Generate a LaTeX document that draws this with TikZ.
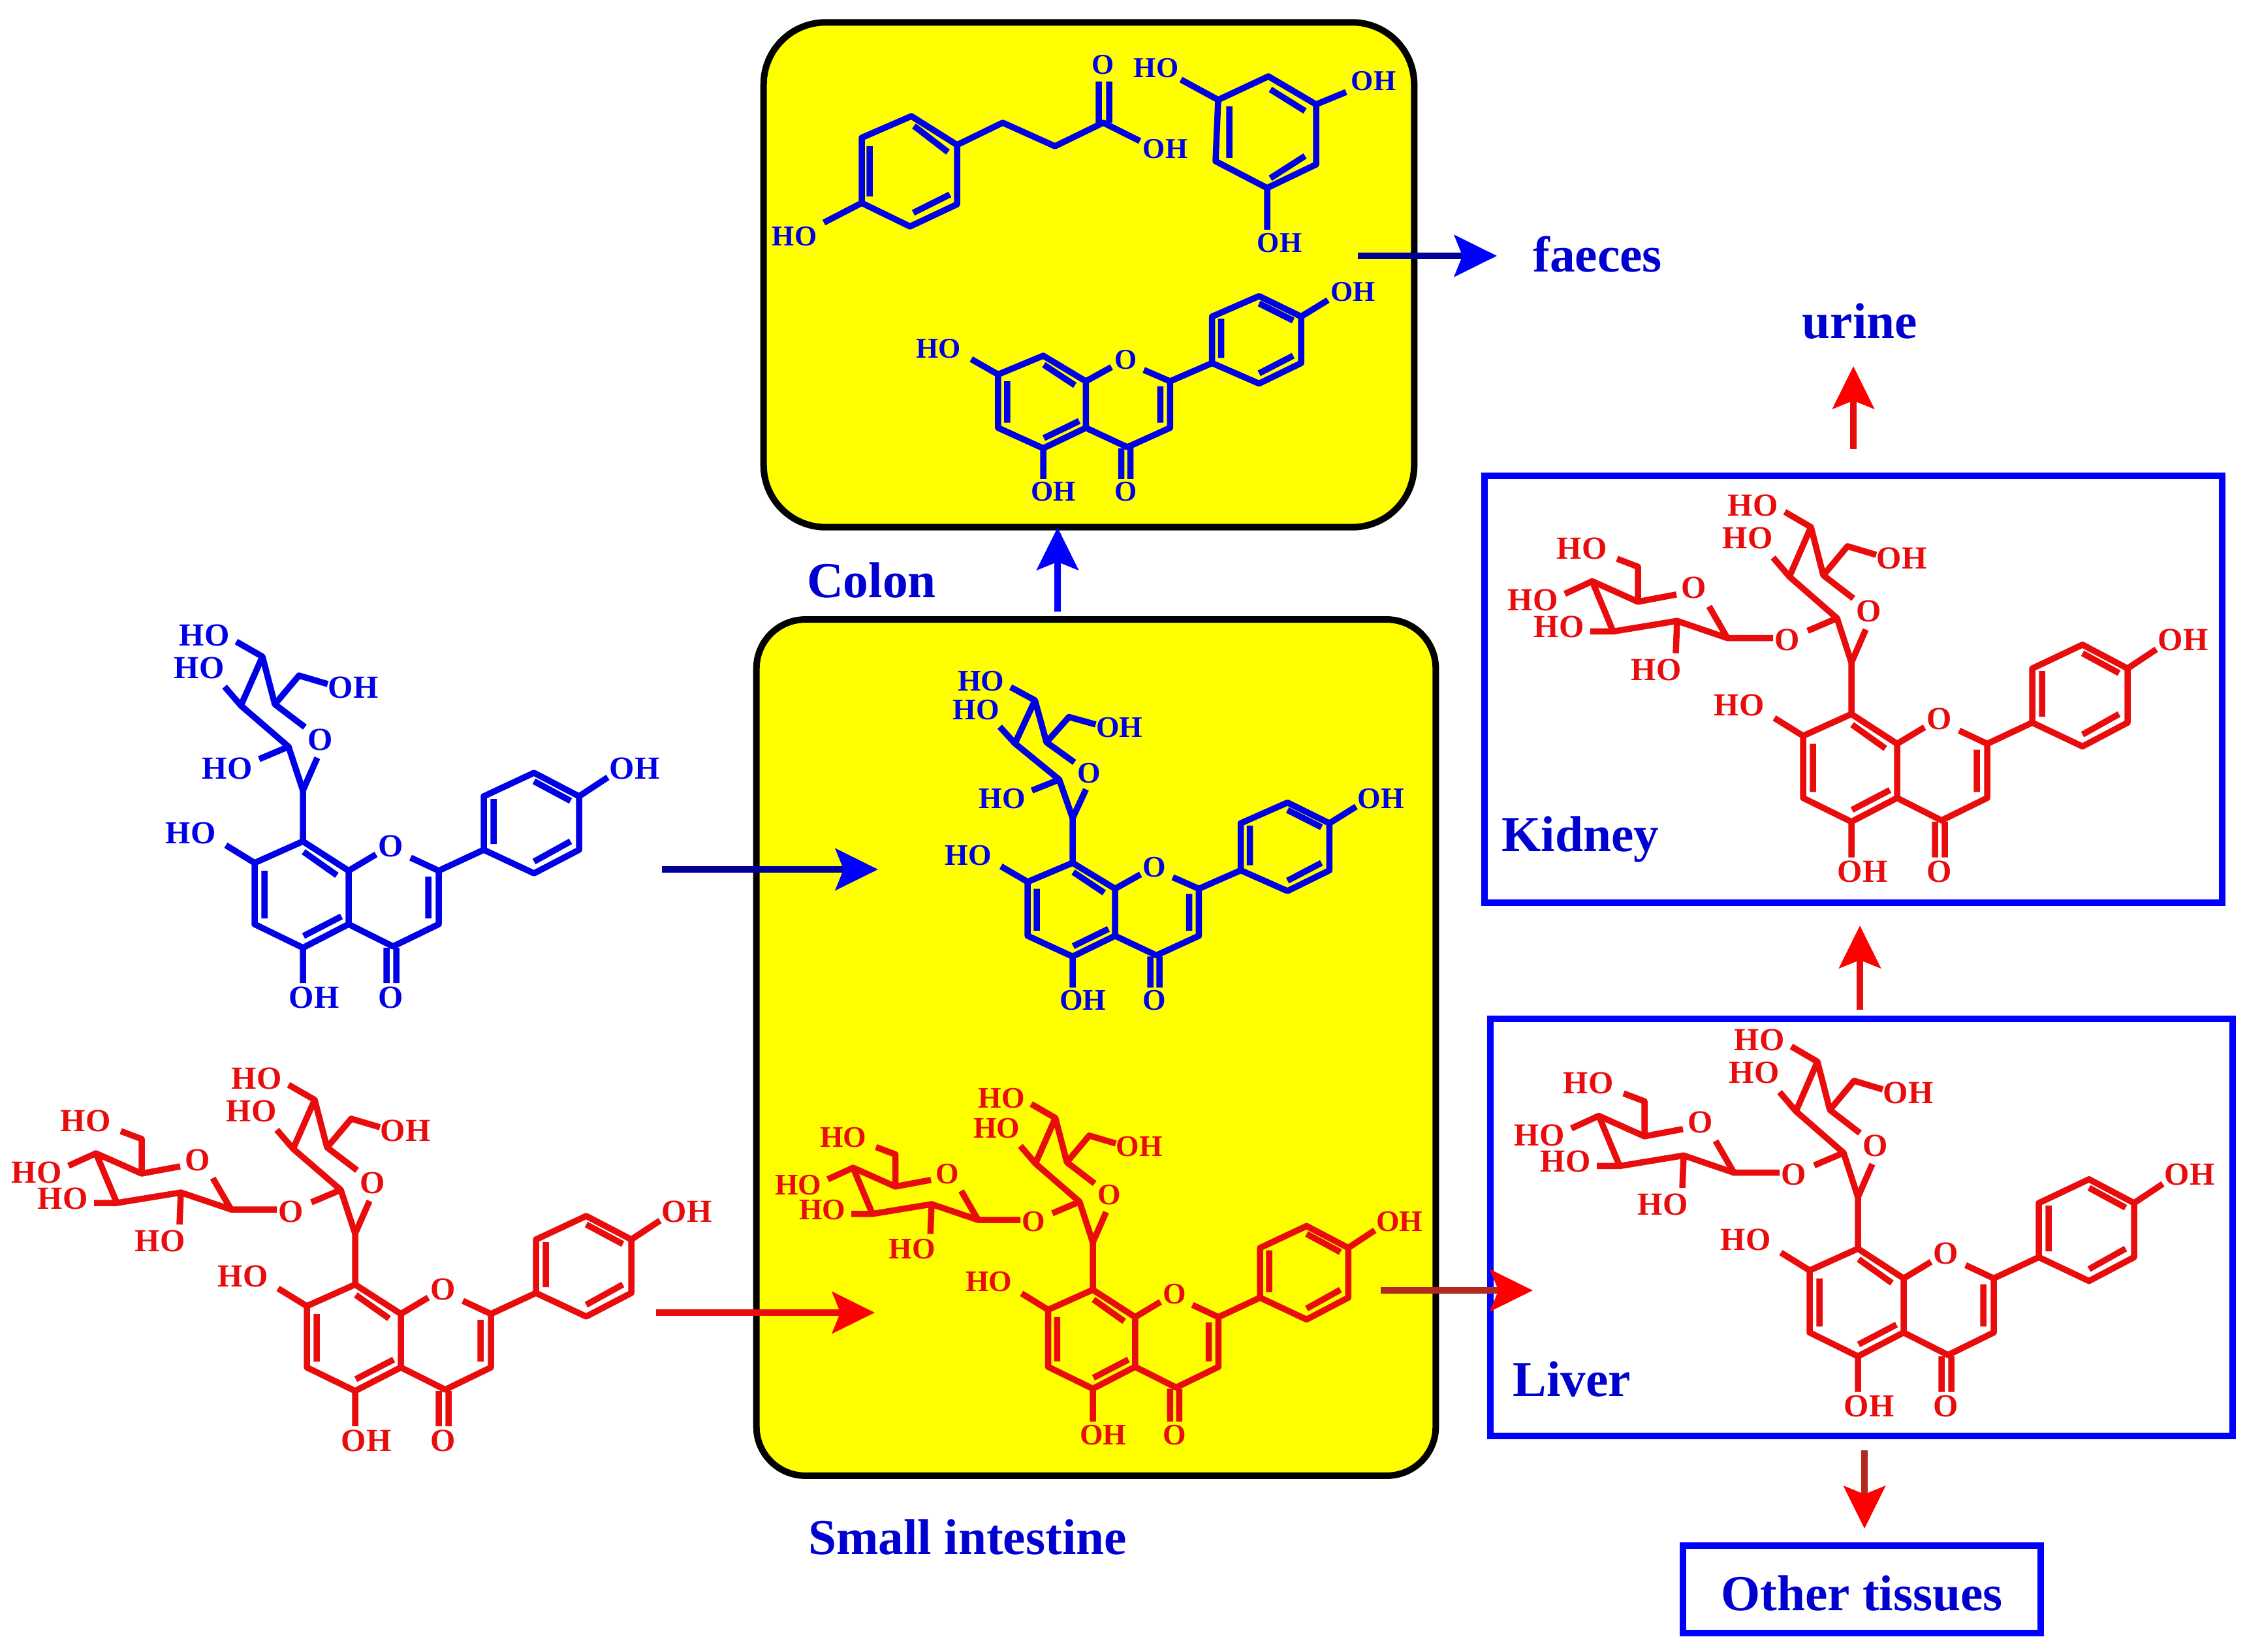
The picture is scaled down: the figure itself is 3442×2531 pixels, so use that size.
\documentclass[tikz,border=0pt]{standalone}
\usepackage{fontspec}
\setmainfont{Liberation Serif}
\usetikzlibrary{arrows.meta}
\definecolor{molred}{HTML}{E80C0C}
\definecolor{molblue}{HTML}{0000E6}
\definecolor{shaftblue}{HTML}{000099}
\definecolor{shaftred}{HTML}{B02A20}
\definecolor{labelblue}{HTML}{0000D0}
\definecolor{boxyellow}{HTML}{FFFF00}
\def\molfs{14}
\tikzset{
  bond/.style={line width=2.7pt,line join=round},
  atom/.style={font=\bfseries\fontsize{\molfs}{\molfs}\selectfont,inner sep=0pt},
  compartment/.style={draw=black,fill=boxyellow,line width=2.85pt,inner sep=0pt},
  organ/.style={draw=blue,line width=2.85pt,inner sep=0pt,fill=none},
  caption/.style={font=\bfseries\fontsize{22}{23}\selectfont,text=labelblue,inner sep=0pt},
  flowtipblue/.style={-{Stealth[length=18.5pt,width=18pt,inset=3.5pt,color=blue]}},
  flowtipred/.style={-{Stealth[length=18.5pt,width=18pt,inset=3.5pt,color=red]}},
  flowdarkblue/.style={draw=shaftblue,line width=3pt,flowtipblue},
  flowblue/.style={draw=blue,line width=3pt,flowtipblue},
  flowdarkred/.style={draw=shaftred,line width=3pt,flowtipred},
  flowred/.style={draw=molred,line width=3pt,flowtipred},
}
% flavone core: #1 is the name prefix
\newcommand{\molcore}[1]{%
  \foreach \n/\x/\y in {c8/0/0,c8a/70/45,c4a/70/127,c5/0/163,c6/-74/127,c7/-74/33,
      c2/208/45,c3/208/127,c4/138/161,cb/277/13,cc/277/-69,cd/354/-105,ce/423/-69,cf/423/13,cg/354/49,
      oa/112/20,ob/165/25,ho7/-118/6,oh5/0/217,oh4/467/-98,
      ia/-59/45,ib/-59/118,ic/1/16,id/52/52,ie/1/145,if/59/115,ig/192/54,ih/192/118,
      ca/128/163,cz/128/217,cy/143/163,cx/143/217,
      ja/292/-65,jb/292/4,jc/354/-92,jd/410/-62,je/354/31,jf/410/0}
    {\coordinate (#1\n) at (\x,\y);}
  \draw[bond] (#1c8)--(#1c8a)--(#1c4a)--(#1c5)--(#1c6)--(#1c7)--cycle;
  \draw[bond] (#1oa)--(#1c8a) (#1ob)--(#1c2)--(#1c3)--(#1c4)--(#1c4a);
  \draw[bond] (#1c2)--(#1cb)--(#1cc)--(#1cd)--(#1ce)--(#1cf)--(#1cg)--(#1cb);
  \draw[bond] (#1c7)--(#1ho7) (#1c5)--(#1oh5) (#1ce)--(#1oh4);
  \draw[bond] (#1ia)--(#1ib) (#1ic)--(#1id) (#1ie)--(#1if) (#1ig)--(#1ih) (#1ca)--(#1cz) (#1cy)--(#1cx);
  \draw[bond] (#1ja)--(#1jb) (#1jc)--(#1jd) (#1je)--(#1jf);
  \node[atom] (#1Oa) at (135,7) {O};
  \node[atom] (#1Ob) at (135,239) {O};
  \node[atom] (#1Lb) at (17,239) {OH};
  \node[atom] (#1Lc) at (-172,-13) {HO};
  \node[atom] (#1Ld) at (508,-112) {OH};
}
% C-linked sugar
\newcommand{\molsugar}[1]{%
  \foreach \n/\x/\y in {an/0/-78,os/22/-128,ot/3/-175,s5/-43/-210,sm/-6/-254,ss/38/-241,
      st/-62/-283,sa/-102/-306,s3/-95/-208,sb/-120/-237,s2/-22/-145,sc/-67/-126}
    {\coordinate (#1\n) at (\x,\y);}
  \draw[bond] (#1c8)--(#1an)--(#1os) (#1ot)--(#1s5)--(#1sm)--(#1ss);
  \draw[bond] (#1s5)--(#1st)--(#1sa) (#1st)--(#1s3)--(#1sb) (#1s3)--(#1s2)--(#1an) (#1s2)--(#1sc);
  \node[atom] (#1Sa) at (27,-156) {O};
  \node[atom] (#1Sb) at (77,-236) {OH};
  \node[atom] (#1Sc) at (-151,-316) {HO};
  \node[atom] (#1Sd) at (-159,-266) {HO};
}
% second sugar, O-linked
\newcommand{\molsecond}[1]{%
  \foreach \n/\x/\y in {ga/-120/-115,gc/-190/-115,gd/-218/-163,g3/-267/-141,gh/-269/-92,g4/-365/-125,
      gi/-400/-125,g5/-397/-201,gj/-439/-182,g6/-327/-170,ge/-268/-181,g7/-327/-223,gk/-359/-235}
    {\coordinate (#1\n) at (\x,\y);}
  \draw[bond] (#1ga)--(#1gc)--(#1gd) (#1gc)--(#1g3)--(#1g4)--(#1g5)--(#1g6)--(#1ge);
  \draw[bond] (#1g3)--(#1gh) (#1g4)--(#1gi) (#1g5)--(#1gj) (#1g6)--(#1g7)--(#1gk);
  \node[atom] (#1Ga) at (-98,-112) {O};
  \node[atom] (#1Gb) at (-241,-191) {O};
  \node[atom] (#1Gc) at (-299,-67) {HO};
  \node[atom] (#1Gd) at (-448,-132) {HO};
  \node[atom] (#1Ge) at (-488,-172) {HO};
  \node[atom] (#1Gf) at (-413,-251) {HO};
}
\newcommand{\moldi}[5]{% prefix, x, y, xscale, yscale
  \begin{scope}[shift={(#2,#3)},xscale=#4,yscale=#5,color=molred]
    \molcore{#1}\molsugar{#1}\molsecond{#1}
  \end{scope}}
\newcommand{\molmono}[5]{%
  \begin{scope}[shift={(#2,#3)},xscale=#4,yscale=#5,color=molblue]
    \molcore{#1}\molsugar{#1}
    \node[atom] (#1Sh) at (-116,-112) {HO};
  \end{scope}}
\begin{document}
\begin{tikzpicture}[x=0.01cm,y=-0.01cm]
\useasboundingbox (0,0) rectangle (3442,2531);
\fill[white] (0,0) rectangle (3442,2531);
% compartments
\node[compartment,rounded corners=0.95cm,minimum width=9.96cm,minimum height=7.73cm] (colon) at (1668,421) {};
\node[compartment,rounded corners=0.75cm,minimum width=10.40cm,minimum height=13.11cm] (si) at (1679,1605) {};
\node[organ,minimum width=11.30cm,minimum height=6.54cm] (kidney) at (2839,1056) {};
\node[organ,minimum width=11.37cm,minimum height=6.39cm] (liver) at (2851.5,1880.5) {};
\node[organ,minimum width=5.47cm,minimum height=1.34cm] (other) at (2852,2435) {};
% captions
\node[caption] (tother) at (2852,2441) {Other tissues};
\node[caption] (tfaeces) at (2447,390) {faeces};
\node[caption] (turine) at (2849,492) {urine};
\node[caption] (tcolon) at (1335,889) {Colon};
\node[caption] (tsi) at (1482,2355) {Small intestine};
\node[caption] (tkidney) at (2421,1286) {Kidney};
\node[caption] (tliver) at (2408,2113) {Liver};
% molecules
\def\molfs{14}
\molmono{bl}{464}{1289}{1}{1}
\moldi{rl}{544}{1968}{1}{1}
\moldi{rk}{2836}{1094}{1}{1.012}
\moldi{rv}{2846}{1913}{1}{1.012}
\def\molfs{13}
\molmono{bs}{1643}{1322}{.93}{.88}
\moldi{rs}{1674}{1976}{.925}{.93}
\def\molfs{12.5}
\begin{scope}[shift={(1598,545)},xscale=.934,yscale=.87,color=molblue]
  \molcore{bc}
\end{scope}
% colon metabolites
\begin{scope}[color=molblue]
  \foreach \n/\x/\y in {pa/1320/211,pb/1396/178,pc/1466/222,pd/1466/313,pe/1394/347,pf/1320/311,ps/1262/341,
      qa/1536/188,qb/1616/224,qc/1690/188,qd/1683/188,qe/1683/125,qf/1699/188,qg/1699/125,qh/1746/216,
      ra/1332/224,rb/1332/301,rc/1400/193,rd/1452/233,re/1399/326,rf/1455/298,
      ua/1866/153,ub/1943/117,uc/2016/160,ud/2016/252,ue/1941/288,uf/1862/247,
      va/1809/122,vb/2062/141,vc/1941/352,
      wa/1883/163,wb/1883/242,wc/1946/137,wd/1999/170,we/1946/273,wf/1999/239}
    {\coordinate (\n) at (\x,\y);}
  \draw[bond] (pa)--(pb)--(pc)--(pd)--(pe)--(pf)--cycle;
  \draw[bond] (pf)--(ps) (pc)--(qa)--(qb)--(qc)--(qh) (qd)--(qe) (qf)--(qg);
  \draw[bond] (ra)--(rb) (rc)--(rd) (re)--(rf);
  \draw[bond] (ua)--(ub)--(uc)--(ud)--(ue)--(uf)--cycle;
  \draw[bond] (ua)--(va) (uc)--(vb) (ue)--(vc);
  \draw[bond] (wa)--(wb) (wc)--(wd) (we)--(wf);
  \node[atom] (m1) at (1217,362) {HO};
  \node[atom] (m2) at (1690,99) {O};
  \node[atom] (m3) at (1785,228) {OH};
  \node[atom] (m4) at (1771,104) {HO};
  \node[atom] (m5) at (2104,124) {OH};
  \node[atom] (m6) at (1960,372) {OH};
\end{scope}
% flows
\foreach \n/\x/\y in {f1a/1014/1332,f1b/1345/1332,f2a/1005/2011,f2b/1340/2011,f3a/2115/1977,f3b/2348/1977,
    f4a/1620/937,f4b/1620/808,f5a/2080/392,f5b/2293/392,f6a/2849/1547,f6b/2849/1418,
    f7a/2839/688,f7b/2839/561,f8a/2856/2222,f8b/2856/2342}
  {\coordinate (\n) at (\x,\y);}
\draw[flowdarkblue] (f1a)--(f1b);
\draw[flowred] (f2a)--(f2b);
\draw[flowdarkred] (f3a)--(f3b);
\draw[flowblue] (f4a)--(f4b);
\draw[flowdarkblue] (f5a)--(f5b);
\draw[flowred] (f6a)--(f6b);
\draw[flowred] (f7a)--(f7b);
\draw[flowdarkred] (f8a)--(f8b);
\end{tikzpicture}
\end{document}
